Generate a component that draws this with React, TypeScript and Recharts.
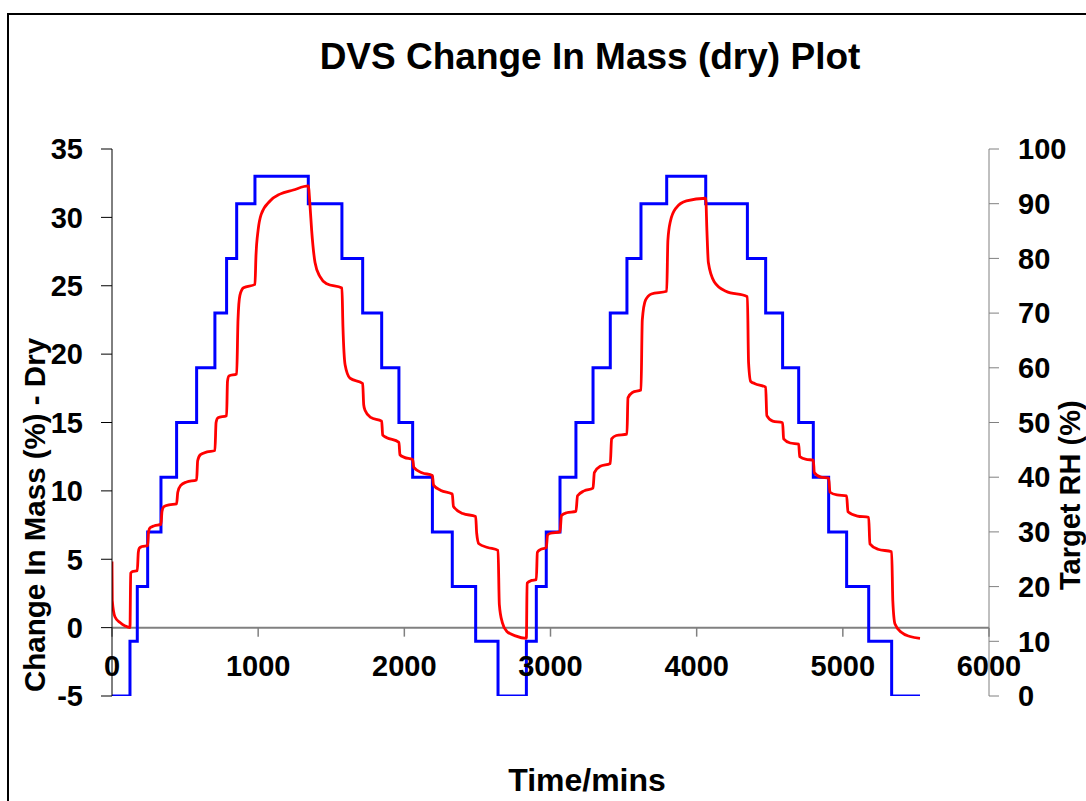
import React from 'react';
import { LineChart, Line, XAxis, YAxis, ReferenceLine } from 'recharts';

const FONT = "Arial, 'Liberation Sans', sans-serif";

// Target RH steps (time in mins, RH %)
const rhTimes = [0, 123, 173, 244, 335, 442, 579, 704, 784, 853, 978, 1343, 1573, 1715, 1845, 1963, 2057, 2192, 2328, 2488, 2641, 2835, 2903, 2971, 3065, 3174, 3291, 3409, 3523, 3619, 3795, 4062, 4347, 4472, 4588, 4698, 4798, 4903, 5026, 5177, 5334, 5528];
const rhValues = [0, 10, 20, 30, 40, 50, 60, 70, 80, 90, 95, 90, 80, 70, 60, 50, 40, 30, 20, 10, 0, 10, 20, 30, 40, 50, 60, 70, 80, 90, 95, 90, 80, 70, 60, 50, 40, 30, 20, 10, 0, 0];

// Change in mass (% dry)
const massTimes = [0, 2, 20, 55, 90, 123, 128, 140, 173, 180, 187, 205, 244, 250, 260, 290, 335, 342, 355, 390, 442, 450, 470, 510, 579, 586, 605, 650, 704, 712, 725, 784, 790, 800, 853, 862, 875, 900, 978, 985, 1000, 1020, 1081, 1149, 1240, 1343, 1355, 1366, 1389, 1423, 1469, 1573, 1580, 1595, 1628, 1715, 1722, 1731, 1770, 1845, 1852, 1880, 1963, 1970, 2000, 2057, 2065, 2120, 2192, 2200, 2250, 2328, 2336, 2400, 2488, 2495, 2510, 2570, 2641, 2650, 2670, 2700, 2760, 2835, 2840, 2870, 2903, 2910, 2930, 2971, 2980, 3000, 3065, 3075, 3110, 3174, 3185, 3230, 3291, 3300, 3340, 3409, 3418, 3450, 3523, 3530, 3560, 3619, 3628, 3650, 3690, 3795, 3803, 3820, 3860, 3930, 4062, 4070, 4080, 4120, 4200, 4347, 4355, 4370, 4399, 4472, 4480, 4520, 4588, 4595, 4640, 4698, 4705, 4750, 4798, 4805, 4850, 4903, 4912, 4960, 5026, 5035, 5100, 5177, 5185, 5240, 5334, 5342, 5357, 5400, 5460, 5528];
const massValues = [4.83, 2.0, 0.8, 0.37, 0.12, 0.0, 3.98, 4.1, 4.17, 5.5, 5.81, 5.93, 6.0, 7.0, 7.3, 7.45, 7.55, 8.5, 8.85, 8.98, 9.05, 9.9, 10.4, 10.65, 10.8, 12.2, 12.65, 12.85, 12.95, 15.0, 15.35, 15.5, 18.0, 18.4, 18.55, 22.5, 24.3, 24.85, 25.1, 27.2, 29.1, 30.2, 31.2, 31.7, 32.0, 32.3, 30.8, 29.05, 26.7, 25.66, 25.14, 24.83, 22.0, 19.2, 18.24, 17.85, 16.3, 15.9, 15.37, 15.1, 14.07, 13.89, 13.55, 12.64, 12.45, 12.3, 11.72, 11.33, 11.13, 10.42, 10.03, 9.77, 8.86, 8.34, 8.13, 6.9, 6.13, 5.86, 5.65, 1.69, 0.39, -0.26, -0.6, -0.78, 3.26, 3.45, 3.51, 5.5, 5.7, 5.85, 6.77, 6.9, 7.0, 8.2, 8.4, 8.5, 9.64, 10.0, 10.2, 11.33, 11.8, 12.0, 13.8, 14.05, 14.15, 16.8, 17.2, 17.38, 22.5, 23.95, 24.4, 24.6, 28.3, 29.7, 30.7, 31.2, 31.4, 29.05, 26.7, 25.3, 24.6, 24.2, 19.4, 18.0, 17.84, 17.58, 15.5, 15.1, 14.98, 13.8, 13.5, 13.42, 12.5, 12.3, 12.25, 11.33, 11.0, 10.94, 9.9, 9.7, 9.64, 8.47, 8.16, 8.07, 6.13, 5.73, 5.55, 1.95, 0.26, -0.34, -0.65, -0.78];

const xTicks = [0, 1000, 2000, 3000, 4000, 5000, 6000];
const massTicks = [-5, 0, 5, 10, 15, 20, 25, 30, 35];
const rhTicks = [0, 10, 20, 30, 40, 50, 60, 70, 80, 90, 100];

const rhData = rhTimes.map((t, i) => ({ t, rh: rhValues[i] }));
const massData = massTimes.map((t, i) => ({ t, mass: massValues[i] }));

const XTick = (props: any) => {
  const { x, y, payload } = props;
  return (
    <text x={x} y={y - 28} textAnchor="middle" fontSize={29} fontWeight="bold" fontFamily={FONT} fill="#000">
      {payload.value}
    </text>
  );
};

const tickStyle = { fontSize: 29, fontWeight: 'bold', fill: '#000', fontFamily: FONT } as any;

export default function App() {
  return (
    <div style={{ position: 'fixed', left: 0, top: 0, width: 1086, height: 801, overflow: 'hidden', background: '#fff' }}>
      <div style={{ position: 'absolute', left: 7, top: 13, width: 1200, height: 1000, border: '2px solid #000', boxSizing: 'border-box' }} />
      <div style={{ position: 'absolute', left: 0, top: 0 }}>
        <LineChart width={1086} height={801} margin={{ top: 149, right: 0, bottom: 75, left: 0 }}>
          <XAxis
            xAxisId={0}
            type="number"
            dataKey="t"
            domain={[0, 6000]}
            ticks={xTicks}
            allowDataOverflow
            axisLine={false}
            tickLine={false}
            height={30}
            tick={<XTick />}
            interval={0}
          />
          <YAxis
            yAxisId="left"
            orientation="left"
            domain={[-5, 35]}
            ticks={massTicks}
            width={112}
            stroke="#000"
            tickSize={11}
            tickMargin={18}
            tick={tickStyle}
            interval={0}
            allowDataOverflow
          />
          <YAxis
            yAxisId="right"
            orientation="right"
            domain={[0, 100]}
            ticks={rhTicks}
            width={97}
            stroke="#808080"
            tickSize={10}
            tickMargin={19}
            tick={tickStyle}
            interval={0}
            allowDataOverflow
          />
          <ReferenceLine yAxisId="left" y={0} stroke="#808080" strokeWidth={2} />
          {xTicks.map((t) => (
            <ReferenceLine
              key={t}
              yAxisId="left"
              segment={[{ x: t, y: 0 }, { x: t, y: -0.66 }]}
              stroke="#808080"
              strokeWidth={1.5}
            />
          ))}
          <Line
            yAxisId="right"
            data={rhData}
            dataKey="rh"
            type="stepAfter"
            stroke="#0000FF"
            strokeWidth={3}
            dot={false}
            activeDot={false}
            isAnimationActive={false}
          />
          <Line
            yAxisId="left"
            data={massData}
            dataKey="mass"
            type="monotone"
            stroke="#FF0000"
            strokeWidth={2.8}
            dot={false}
            activeDot={false}
            isAnimationActive={false}
          />
        </LineChart>
      </div>
      <svg width={1086} height={801} style={{ position: 'absolute', left: 0, top: 0, pointerEvents: 'none' }}>
        <text x={590} y={69} textAnchor="middle" fontSize={37} fontWeight="bold" fontFamily={FONT} fill="#000">
          DVS Change In Mass (dry) Plot
        </text>
        <text x={587} y={791} textAnchor="middle" fontSize={32} fontWeight="bold" fontFamily={FONT} fill="#000">
          Time/mins
        </text>
        <text
          x={34}
          y={692}
          transform="rotate(-90, 34, 692)"
          textAnchor="start"
          dominantBaseline="central"
          fontSize={29.5}
          fontWeight="bold"
          fontFamily={FONT}
          fill="#000"
        >
          Change In Mass (%) - Dry
        </text>
        <text
          x={1070}
          y={590}
          transform="rotate(-90, 1070, 590)"
          textAnchor="start"
          dominantBaseline="central"
          fontSize={29}
          fontWeight="bold"
          fontFamily={FONT}
          fill="#000"
        >
          Target RH (%)
        </text>
      </svg>
    </div>
  );
}
